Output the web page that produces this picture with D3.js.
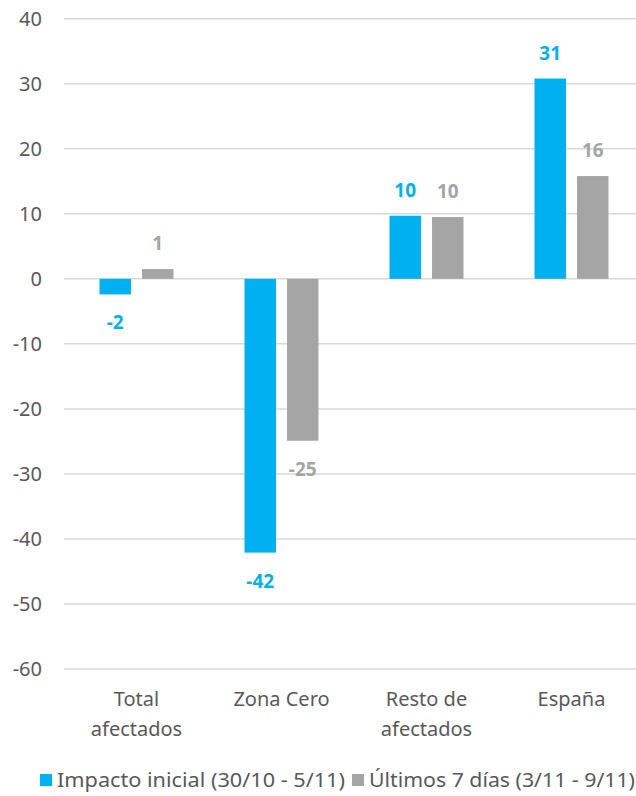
<!DOCTYPE html>
<html><head><meta charset="utf-8">
<script src="https://cdn.jsdelivr.net/npm/d3@7"></script>
<style>body{margin:0;background:#fff}svg{display:block}text{font-family:"Noto Sans",sans-serif}</style>
</head><body>
<script>
const categories = [["Total","afectados"],["Zona Cero"],["Resto de","afectados"],["España"]];
const seriesNames = ["Impacto inicial (30/10 - 5/11)","Últimos 7 días (3/11 - 9/11)"];
const impacto = [-2.4, -42.1, 9.7, 30.8];
const ultimos = [1.5, -24.9, 9.5, 15.8];
const impactoLabels = ["-2","-42","10","31"];
const ultimosLabels = ["1","-25","10","16"];
const yTicks = [40,30,20,10,0,-10,-20,-30,-40,-50,-60];
const colors = ["#00B0F0","#A5A5A5"];

const W=636,H=796;
const svg=d3.select("body").append("svg").attr("width",W).attr("height",H);
const left=64, bandW=145;
const x=d3.scaleBand().domain(d3.range(4)).range([left,left+bandW*4]).paddingInner(0).paddingOuter(0);
const y=d3.scaleLinear().domain([-60,40]).range([669,18.7]);
const x1=d3.scaleBand().domain([0,1]).range([-37,37]).paddingInner(0.26);

// gridlines
svg.append("g").selectAll("line").data(yTicks).join("line")
 .attr("x1",left).attr("x2",W).attr("y1",d=>y(d)).attr("y2",d=>y(d))
 .attr("stroke","#D9D9D9").attr("stroke-width",1.5);
// y axis labels
const yAxis=d3.axisLeft(y).tickValues(yTicks).tickSize(0).tickPadding(0).tickFormat(d=>String(d));
const ya=svg.append("g").attr("transform","translate(42,0)").call(yAxis);
ya.select(".domain").remove();
ya.selectAll("text").attr("fill","#595959").style("font-size","20px").style("font-family","'Noto Sans',sans-serif");

const series=[impacto,ultimos], labels=[impactoLabels,ultimosLabels];
series.forEach((vals,s)=>{
  const g=svg.append("g");
  g.selectAll("rect").data(vals).join("rect")
   .attr("x",(d,i)=>x(i)+bandW/2+x1(s)).attr("width",x1.bandwidth())
   .attr("y",d=>y(Math.max(0,d))).attr("height",d=>Math.abs(y(d)-y(0)))
   .attr("fill",colors[s]);
  g.selectAll("text").data(vals).join("text")
   .attr("x",(d,i)=>x(i)+bandW/2+x1(s)+x1.bandwidth()/2)
   .attr("y",d=>d>=0?y(d)-19:y(d)+35)
   .attr("text-anchor","middle").attr("fill",colors[s])
   .style("font-size","19px").style("font-weight","bold")
   .text((d,i)=>labels[s][i]);
});

// category labels
const cg=svg.append("g");
categories.forEach((lines,i)=>{
  const t=cg.append("text").attr("text-anchor","middle").attr("fill","#595959").style("font-size","20px");
  lines.forEach((ln,j)=>t.append("tspan").attr("x",x(i)+bandW/2).attr("y",706+j*30).text(ln));
});

// legend
const leg=svg.append("g");
const legX=[40,352], legLen=[288,266];
seriesNames.forEach((n,s)=>{
  leg.append("rect").attr("x",legX[s]).attr("y",774).attr("width",12).attr("height",12).attr("fill",colors[s]);
  leg.append("text").attr("x",legX[s]+17).attr("y",787).attr("fill","#595959").style("font-size","20px")
   .attr("textLength",legLen[s]).attr("lengthAdjust","spacingAndGlyphs").text(n);
});
</script>
</body></html>
